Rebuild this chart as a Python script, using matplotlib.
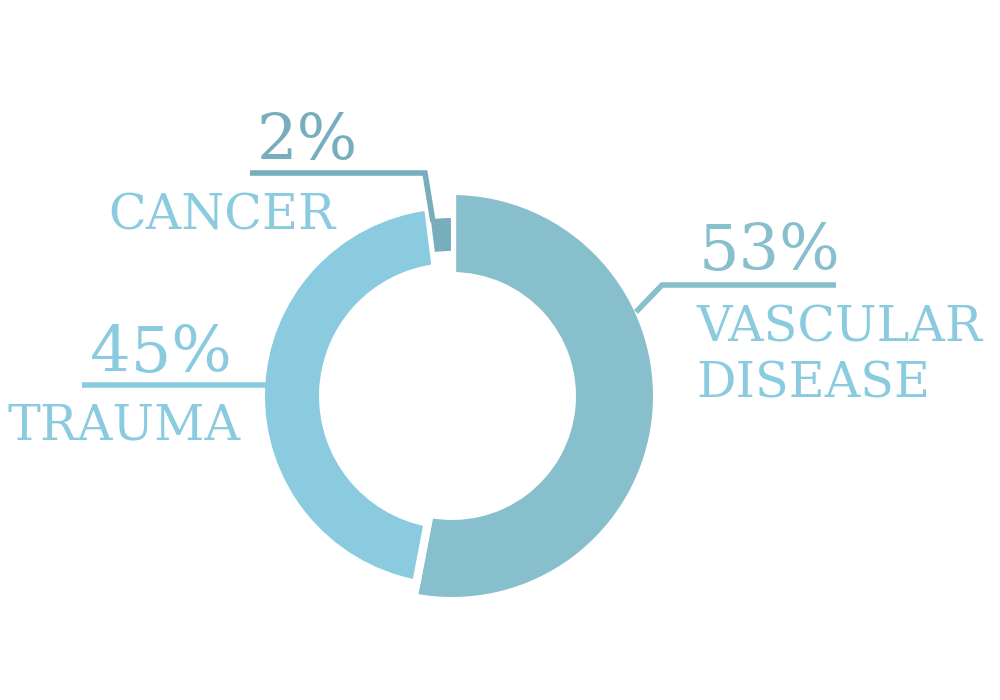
import matplotlib.pyplot as plt

# slice data (clockwise from 12 o'clock)
labels = ['VASCULAR\nDISEASE', 'TRAUMA', 'CANCER']
shares = [53, 45, 2]
pct_labels = ['53%', '45%', '2%']
slice_colors = ['#88bfcc', '#8acbe0', '#77adbc']
label_color = '#8acbe0'

W, H = 1000, 700
fig = plt.figure(figsize=(10, 7), dpi=100)
ax = fig.add_axes([0, 0, 1, 1])


def py(y):
    # pixel row -> data y
    return H - y


cx, cy = 452, py(396)
gap_lw = 6  # pt, white stroke that opens the gaps
pad = gap_lw * 100 / 72 / 2  # px eaten on each side by the stroke

wedges, _ = ax.pie(shares, colors=slice_colors, startangle=90, counterclock=False,
                   radius=201, center=(cx, cy),
                   wedgeprops=dict(width=77, edgecolor='white', linewidth=gap_lw),
                   frame=True)
# each slice has its own ring thickness
wedges[0].set_radius(201 + pad)
wedges[0].set_width(77 + 2 * pad)
wedges[1].set_radius(187 + pad)
wedges[1].set_width(54 + 2 * pad)
wedges[2].set_linewidth(1.5)
wedges[2].set_radius(179)
wedges[2].set_width(35)

ax.set_xlim(0, W)
ax.set_ylim(0, H)
ax.set_aspect('equal')
ax.axis('off')

font = dict(family='DejaVu Serif', va='baseline', ha='left')
pct_size = 46
lab_size = 35.5

# vascular
ax.plot([636, 662, 836], [py(312), py(285), py(285)], color=slice_colors[0], lw=4,
        solid_capstyle='butt')
ax.text(699, py(270), pct_labels[0], fontsize=pct_size, color=slice_colors[0], **font)
ax.text(696, py(342), 'VASCULAR', fontsize=lab_size, color=label_color, **font)
ax.text(696, py(397), 'DISEASE', fontsize=lab_size, color=label_color, **font)

# trauma
ax.plot([82, 268], [py(385), py(385)], color=slice_colors[1], lw=4, solid_capstyle='butt')
ax.text(90, py(372), pct_labels[1], fontsize=pct_size, color=slice_colors[1], **font)
ax.text(8, py(440), labels[1], fontsize=lab_size, color=label_color, **font)

# cancer
ax.plot([250, 425, 433], [py(173), py(173), py(222)], color=slice_colors[2], lw=4,
        solid_capstyle='butt', solid_joinstyle='miter')
ax.text(257, py(160), pct_labels[2], fontsize=pct_size, color=slice_colors[2], **font)
ax.text(108, py(230), labels[2], fontsize=lab_size, color=label_color, **font)

fig.savefig('out.png', dpi=100, facecolor='white')
